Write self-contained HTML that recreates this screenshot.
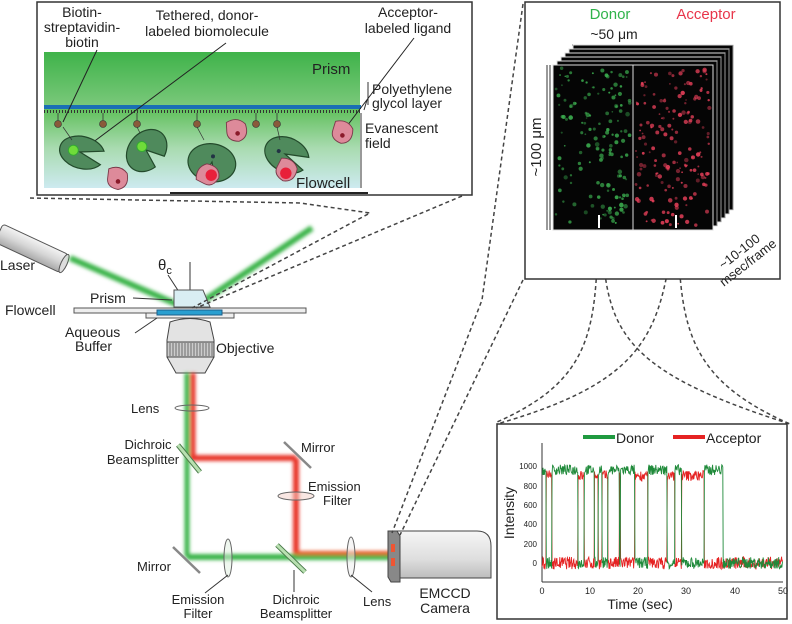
<!DOCTYPE html>
<html><head><meta charset="utf-8"><style>
html,body{margin:0;padding:0;background:#fff}
svg{display:block}
text{font-family:"Liberation Sans",Arial,sans-serif;fill:#222}
</style></head><body>
<svg id="s" width="792" height="624" viewBox="0 0 792 624" xmlns="http://www.w3.org/2000/svg">
<defs>
<linearGradient id="pg" x1="0" y1="0" x2="0" y2="1"><stop offset="0" stop-color="#3fb34a"/><stop offset="1" stop-color="#7cc97c"/></linearGradient>
<linearGradient id="fg" x1="0" y1="0" x2="0" y2="1"><stop offset="0" stop-color="#5fbf5a"/><stop offset="0.5" stop-color="#a9dbb0"/><stop offset="1" stop-color="#cdeaf0"/></linearGradient>
<linearGradient id="cyl" x1="0" y1="0" x2="0" y2="1"><stop offset="0" stop-color="#f4f4f4"/><stop offset="0.5" stop-color="#d6d6d6"/><stop offset="1" stop-color="#a8a8a8"/></linearGradient>
<linearGradient id="cam" x1="0" y1="0" x2="0" y2="1"><stop offset="0" stop-color="#f6f6f6"/><stop offset="0.6" stop-color="#dedede"/><stop offset="1" stop-color="#bdbdbd"/></linearGradient>
<filter id="blur" x="-20%" y="-20%" width="140%" height="140%"><feGaussianBlur stdDeviation="1.8"/></filter>
</defs>

<rect x="37" y="2" width="435" height="193" fill="#fff" stroke="#333" stroke-width="1.5"/>
<rect x="44" y="52" width="316" height="56" fill="url(#pg)"/>
<rect x="44" y="108" width="316" height="80" fill="url(#fg)"/>
<line x1="44" y1="107" x2="361" y2="107" stroke="#1a6fb5" stroke-width="4"/>
<line x1="44" y1="111.5" x2="361" y2="111.5" stroke="#333" stroke-width="3" stroke-dasharray="1,2"/>
<line x1="170" y1="193" x2="368" y2="193" stroke="#222" stroke-width="2"/>
<text x="312" y="74" font-size="15">Prism</text>
<text x="296" y="188" font-size="15">Flowcell</text>
<text x="82" y="17" font-size="14" text-anchor="middle">Biotin-</text>
<text x="82" y="32" font-size="14" text-anchor="middle">streptavidin-</text>
<text x="82" y="47" font-size="14" text-anchor="middle">biotin</text>
<text x="207" y="20" font-size="14" text-anchor="middle">Tethered, donor-</text>
<text x="207" y="36" font-size="14" text-anchor="middle">labeled biomolecule</text>
<text x="408" y="17" font-size="14" text-anchor="middle">Acceptor-</text>
<text x="408" y="33" font-size="14" text-anchor="middle">labeled ligand</text>
<text x="372" y="94" font-size="14">Polyethylene</text>
<text x="372" y="108" font-size="14">glycol layer</text>
<text x="365" y="133" font-size="14">Evanescent</text>
<text x="365" y="148" font-size="14">field</text>
<line x1="368" y1="82" x2="368" y2="105" stroke="#333"/>
<line x1="364" y1="110" x2="367" y2="100" stroke="#333"/>
<line x1="361" y1="113" x2="361" y2="188" stroke="#333"/>
<line x1="97" y1="50" x2="63" y2="122" stroke="#222"/>
<line x1="226" y1="43" x2="92" y2="143" stroke="#222"/>
<line x1="414" y1="38" x2="347" y2="126" stroke="#222"/>
<g id="mols"></g>

<g transform="translate(3,224) rotate(25)">
<rect x="0" y="0" width="72" height="20" rx="3" fill="url(#cyl)" stroke="#555"/>
<ellipse cx="72" cy="10" rx="3" ry="10" fill="#ddd" stroke="#555"/>
</g>
<text x="0" y="270" font-size="14">Laser</text>
<line x1="70" y1="258" x2="190" y2="310" stroke="#3bb44a" stroke-width="6" filter="url(#blur)"/>
<line x1="190" y1="310" x2="312" y2="228" stroke="#3bb44a" stroke-width="6" filter="url(#blur)"/>
<line x1="190" y1="262" x2="190" y2="313" stroke="#333"/>
<text x="158" y="270" font-size="15">θ<tspan font-size="11" dy="4">c</tspan></text>
<line x1="168" y1="275" x2="183" y2="298" stroke="#333"/>
<polygon points="174,290 203,290 210,307 174,307" fill="#d9eef3" stroke="#555"/>
<text x="90" y="303" font-size="14">Prism</text>
<line x1="133" y1="298" x2="172" y2="300" stroke="#333"/>
<rect x="74" y="308" width="232" height="5" fill="#eee" stroke="#555"/>
<text x="5" y="315" font-size="14">Flowcell</text>
<rect x="146" y="313" width="88" height="5" fill="#eee" stroke="#555"/>
<rect x="157" y="310" width="65" height="5" fill="#2a9fd0" stroke="#1a5f8a"/>
<text x="65" y="337" font-size="14">Aqueous</text>
<text x="75" y="351" font-size="14">Buffer</text>
<line x1="135" y1="333" x2="157" y2="318" stroke="#333"/>
<path d="M170,322 Q190,315 210,322 L214,340 L214,357 L205,373 L176,373 L167,357 L167,340 Z" fill="#e3e3e3" stroke="#444"/>
<rect x="167" y="342" width="47" height="15" fill="#ccc" stroke="#444"/>
<g stroke="#555" stroke-width="0.8" id="ridges"></g>
<text x="216" y="353" font-size="14">Objective</text>

<g filter="url(#blur)">
<line x1="187" y1="373" x2="187" y2="557" stroke="#3bb44a" stroke-width="5"/>
<line x1="193" y1="373" x2="193" y2="457" stroke="#e8352a" stroke-width="5"/>
<line x1="190" y1="458" x2="296" y2="458" stroke="#e8352a" stroke-width="6"/>
<line x1="296" y1="458" x2="296" y2="554" stroke="#e8352a" stroke-width="6"/>
<line x1="187" y1="557" x2="392" y2="557" stroke="#3bb44a" stroke-width="6"/>
<line x1="296" y1="553" x2="392" y2="553" stroke="#e8592a" stroke-width="4"/>
</g>
<ellipse cx="192" cy="408" rx="17" ry="3" fill="none" stroke="#666"/>
<text x="131" y="413" font-size="13">Lens</text>
<line x1="178" y1="445" x2="200" y2="472" stroke="#4a7a4a" stroke-width="5"/><line x1="178" y1="445" x2="200" y2="472" stroke="#b8e0b0" stroke-width="3"/>
<text x="148" y="449" font-size="13" text-anchor="middle">Dichroic</text>
<text x="143" y="464" font-size="13" text-anchor="middle">Beamsplitter</text>
<line x1="284" y1="442" x2="311" y2="468" stroke="#888" stroke-width="2.5"/>
<text x="301" y="452" font-size="13">Mirror</text>
<ellipse cx="296" cy="496" rx="18" ry="4" fill="#f3d0c8" fill-opacity="0.5" stroke="#666"/>
<text x="308" y="491" font-size="13">Emission</text>
<text x="323" y="505" font-size="13">Filter</text>
<line x1="173" y1="547" x2="200" y2="573" stroke="#888" stroke-width="2.5"/>
<text x="137" y="571" font-size="13">Mirror</text>
<ellipse cx="228" cy="558" rx="4" ry="19" fill="#e0f0e0" fill-opacity="0.5" stroke="#666"/>
<line x1="228" y1="575" x2="205" y2="593" stroke="#333"/>
<text x="198" y="604" font-size="13" text-anchor="middle">Emission</text>
<text x="198" y="618" font-size="13" text-anchor="middle">Filter</text>
<line x1="277" y1="545" x2="305" y2="572" stroke="#4a7a4a" stroke-width="5"/><line x1="277" y1="545" x2="305" y2="572" stroke="#b8e0b0" stroke-width="3"/>
<line x1="294" y1="570" x2="294" y2="592" stroke="#333"/>
<text x="296" y="604" font-size="13" text-anchor="middle">Dichroic</text>
<text x="296" y="618" font-size="13" text-anchor="middle">Beamsplitter</text>
<ellipse cx="351" cy="557" rx="4" ry="20" fill="#eee" fill-opacity="0.5" stroke="#666"/>
<line x1="351" y1="575" x2="372" y2="592" stroke="#333"/>
<text x="363" y="606" font-size="13">Lens</text>
<path d="M394,531 L477,531 Q491,531 491,546 L491,578 L394,578 Z" fill="url(#cam)" stroke="#444"/>
<path d="M388,531 L397,531 L400,536 L400,582 L391,582 L388,577 Z" fill="#888" stroke="#444"/>
<rect x="391" y="544" width="4" height="8" fill="#e53" />
<rect x="391" y="558" width="4" height="8" fill="#e53" />
<text x="445" y="598" font-size="14" text-anchor="middle">EMCCD</text>
<text x="445" y="613" font-size="14" text-anchor="middle">Camera</text>

<g fill="none" stroke="#444" stroke-width="1.5" stroke-dasharray="4,3">
<path d="M30,198 L300,203 L370,213 L192,308"/>
<path d="M462,196 L196,308"/>
<path d="M523,4 L482,300 L392,533"/>
<path d="M523,280 L400,535"/>
<path d="M598,230 C596,330 592,380 497,422"/>
<path d="M602,230 C605,330 620,370 790,424"/>
<path d="M674,230 C660,330 650,380 497,424"/>
<path d="M678,230 C680,330 690,380 790,424"/>
</g>

<rect x="525" y="2" width="255" height="277" fill="#fff" stroke="#333" stroke-width="1.5"/>
<text x="610" y="19" font-size="15" text-anchor="middle" style="fill:#2fb34a">Donor</text>
<text x="706" y="19" font-size="15" text-anchor="middle" style="fill:#e8354a">Acceptor</text>
<text x="614" y="39" font-size="14" text-anchor="middle">~50 μm</text>
<line x1="572" y1="45" x2="655" y2="45" stroke="#333"/>
<g id="stack"></g>
<line x1="547" y1="65" x2="547" y2="230" stroke="#333"/>
<line x1="550" y1="65" x2="550" y2="230" stroke="#333"/>
<text transform="translate(541,147) rotate(-90)" font-size="15" text-anchor="middle">~100 μm</text>
<g transform="translate(742,255) rotate(-38)">
<text x="0" y="0" font-size="13" text-anchor="middle">~10-100</text>
<text x="0" y="14" font-size="13" text-anchor="middle">msec/frame</text>
</g>

<rect x="497" y="424" width="290" height="195" fill="#fff" stroke="#333" stroke-width="1.5"/>
<line x1="583" y1="437" x2="615" y2="437" stroke="#1f9a40" stroke-width="4"/>
<text x="616" y="443" font-size="14">Donor</text>
<line x1="673" y1="437" x2="705" y2="437" stroke="#e52222" stroke-width="4"/>
<text x="706" y="443" font-size="14">Acceptor</text>
<line x1="542" y1="443" x2="542" y2="582" stroke="#333"/>
<line x1="542" y1="582" x2="783" y2="582" stroke="#333"/>
<g font-size="8" text-anchor="end">
<text x="537" y="469">1000</text><text x="537" y="489">800</text><text x="537" y="508">600</text><text x="537" y="527">400</text><text x="537" y="547">200</text><text x="537" y="566">0</text>
</g>
<g font-size="9" text-anchor="middle">
<text x="542" y="594">0</text><text x="590" y="594">10</text><text x="638" y="594">20</text><text x="686" y="594">30</text><text x="735" y="594">40</text><text x="783" y="594">50</text>
</g>
<text x="640" y="609" font-size="14" text-anchor="middle">Time (sec)</text>
<text transform="translate(514,513) rotate(-90)" font-size="14" text-anchor="middle">Intensity</text>
<g id="traces"></g>
</svg>
<script>
var NS="http://www.w3.org/2000/svg";
var seed=7;function r(){seed=(seed*16807)%2147483647;return (seed-1)/2147483646;}
function el(t,a,p){var e=document.createElementNS(NS,t);for(var k in a)e.setAttribute(k,a[k]);p.appendChild(e);return e;}
var rg=document.getElementById('ridges');for(var x=170;x<213;x+=3)el('line',{x1:x,y1:343,x2:x,y2:356},rg);
var m=document.getElementById('mols');
[[58,124],[103,124],[137,124],[197,124],[256,124],[277,124]].forEach(function(p){
 el('line',{x1:p[0],y1:113,x2:p[0],y2:p[1]-3,stroke:'#333','stroke-width':0.8},m);
 el('circle',{cx:p[0],cy:p[1],r:3.5,fill:'#8a5a3a',stroke:'#333','stroke-width':0.6},m);});
function pac(cx,cy,rx,ry,rot,core){var g=el('g',{transform:'translate('+cx+','+cy+') rotate('+rot+')'},m);
 el('path',{d:'M0,0 L'+rx+',-7 A'+rx+','+ry+' 0 1 0 '+rx+',7 Z',fill:'#4f8a5c',stroke:'#234a2b','stroke-width':1.2},g);
 el('circle',{cx:-rx*0.3,cy:0,r:core?5:2,fill:core?'#6fdc3a':'#234',stroke:core?'#3a3':'none'},g);}
pac(80,152,23,16,15,1);pac(146,150,18,23,40,1);pac(212,162,19,24,100,0);pac(285,154,23,17,25,0);
el('line',{x1:63,y1:127,x2:72,y2:140,stroke:'#333','stroke-width':0.7},m);
el('line',{x1:137,y1:127,x2:140,y2:133,stroke:'#333','stroke-width':0.7},m);
el('line',{x1:197,y1:127,x2:204,y2:140,stroke:'#333','stroke-width':0.7},m);
el('line',{x1:277,y1:127,x2:280,y2:140,stroke:'#333','stroke-width':0.7},m);
function lig(cx,cy,rot,red){var g=el('g',{transform:'translate('+cx+','+cy+') rotate('+rot+') scale(1.15)'},m);
 el('path',{d:'M-8,-8 Q2,-12 8,-4 Q10,8 0,10 Q-10,8 -9,0 Z',fill:'#dd8a9a',stroke:'#7a3a4a','stroke-width':0.8},g);
 el('circle',{cx:0,cy:3,r:red?5:2,fill:red?'#e8203a':'#8a1a2a'},g);}
lig(118,178,0,0);lig(237,130,-10,0);lig(343,132,10,0);lig(287,170,20,1);lig(208,174,-70,1);
var st=document.getElementById('stack');
for(var i=5;i>=0;i--){var ox=553+i*4,oy=65-i*4;
 el('rect',{x:ox,y:oy,width:160,height:165,fill:'#050505',stroke:'#ddd','stroke-width':1},st);
 if(i==0){el('line',{x1:633,y1:65,x2:633,y2:230,stroke:'#ddd'},st);
  for(var k=0;k<150;k++){var x=ox+3+r()*74,y=oy+3+r()*159,s=0.8+r()*1.5;el('circle',{cx:x,cy:y,r:s,fill:'#3cb050',opacity:0.4+r()*0.5},st);}
  for(var k=0;k<170;k++){var x=ox+83+r()*74,y=oy+3+r()*159,s=0.8+r()*1.5;el('circle',{cx:x,cy:y,r:s,fill:'#e8405a',opacity:0.4+r()*0.5},st);}
 } else {el('line',{x1:ox+160,y1:oy,x2:ox+160,y2:oy+165,stroke:'#999'},st);}}
el('rect',{x:598,y:215,width:2,height:13,fill:'#fff'},st);el('rect',{x:675,y:215,width:2,height:13,fill:'#fff'},st);
var S=[[0,0.8,'D'],[0.8,2.1,'A'],[2.1,7.4,'D'],[7.4,8.7,'A'],[8.7,10.8,'D'],[10.8,11.6,'A'],[11.6,12.4,'D'],[12.4,13.6,'A'],[13.6,16,'D'],[16,16.2,'A'],[16.2,19.3,'D'],[19.3,22,'A'],[22,26,'D'],[26,27.6,'A'],[27.6,29,'D'],[29,32,'A'],[32,33.7,'A'],[33.7,37.6,'D'],[37.6,50,'N']];
function st_(t){for(var i=0;i<S.length;i++)if(t<S[i][1])return S[i][2];return 'N';}
function X(t){return 542+t*4.82}function Y(v){return 563-v*0.097}
var d='',a='';
for(var t=0;t<=50;t+=0.1){var s=st_(t);var dv=(s=='D'?960:0)+(r()-0.5)*(s=='D'?110:120);var av=(s=='A'?900:0)+(r()-0.5)*(s=='A'?110:130);
 d+=(d?'L':'M')+X(t).toFixed(1)+','+Y(dv).toFixed(1);a+=(a?'L':'M')+X(t).toFixed(1)+','+Y(av).toFixed(1);}
var tr=document.getElementById('traces');
el('path',{d:a,fill:'none',stroke:'#e52222','stroke-width':0.9},tr);
el('path',{d:d,fill:'none',stroke:'#1f8a3a','stroke-width':0.9},tr);
</script>
</body></html>
